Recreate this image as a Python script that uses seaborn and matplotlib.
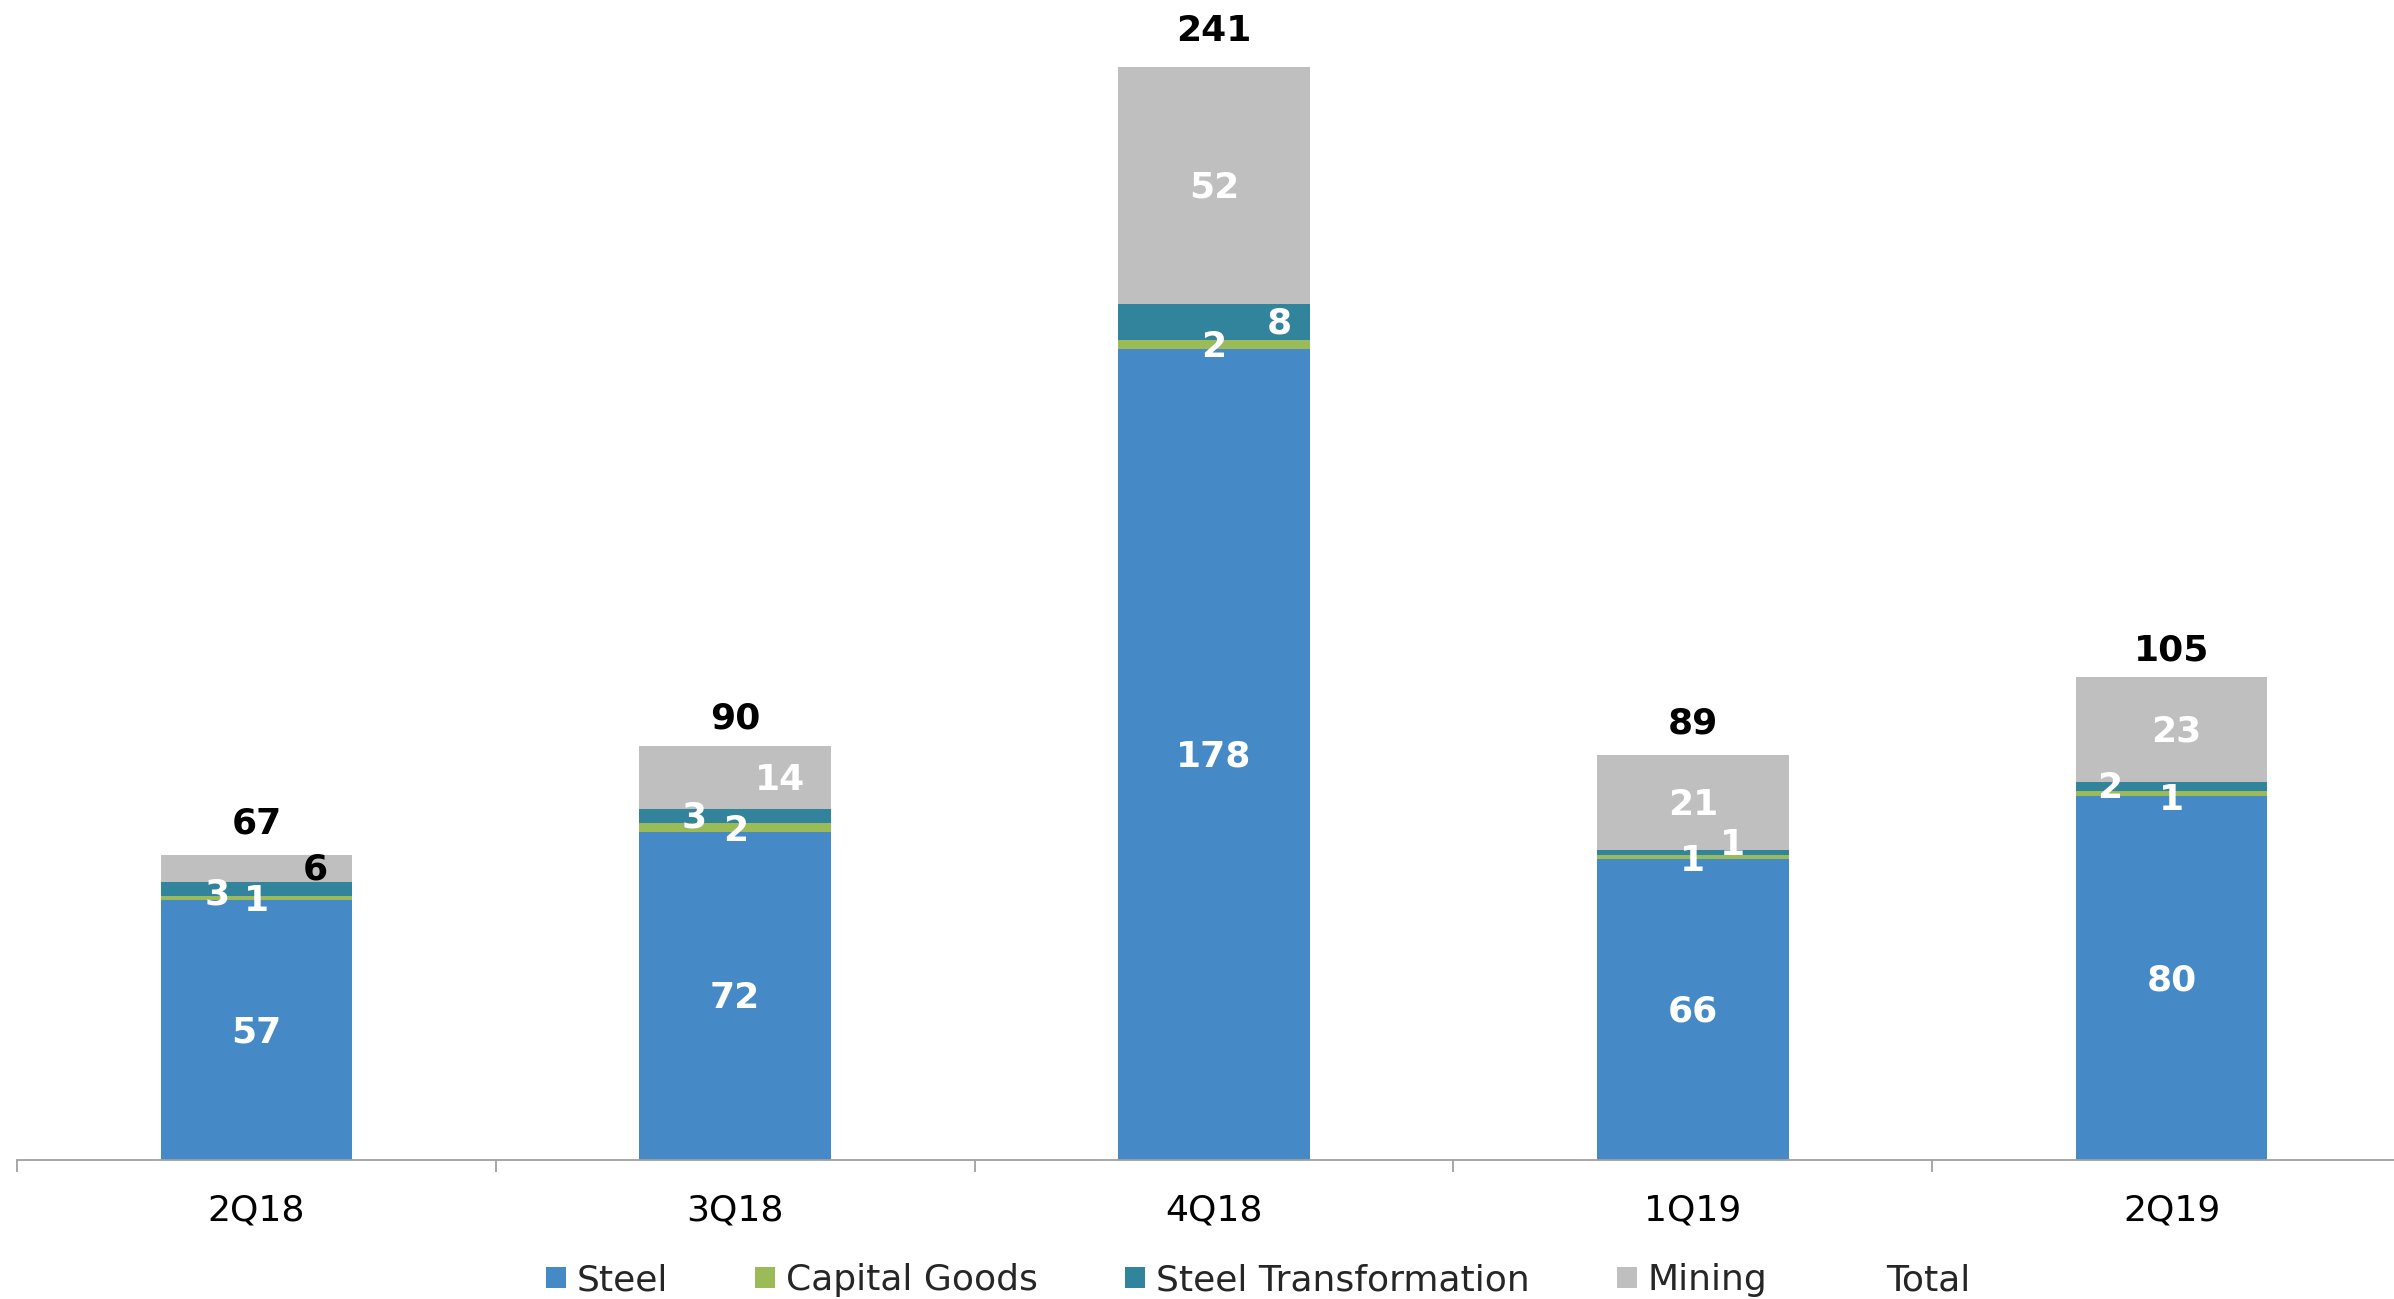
import numpy as np
import pandas as pd
import matplotlib
matplotlib.use("Agg")
import matplotlib.pyplot as plt
from matplotlib.patches import Patch
import seaborn as sns

# Quarterly figures by business segment
quarters = ["2Q18", "3Q18", "4Q18", "1Q19", "2Q19"]
steel = [57, 72, 178, 66, 80]
capital_goods = [1, 2, 2, 1, 1]
steel_transformation = [3, 3, 8, 1, 2]
mining = [6, 14, 52, 21, 23]
total = [67, 90, 241, 89, 105]

series_names = ["Steel", "Capital Goods", "Steel Transformation", "Mining"]
colors = {
    "Steel": "#4589C6",
    "Capital Goods": "#9BBB59",
    "Steel Transformation": "#31849B",
    "Mining": "#BFBFBF",
}

# Label nudges so labels of thin segments do not collide (category units / data units)
label_dx = {
    "Steel": [0, 0, 0, 0, 0],
    "Capital Goods": [0, 0, 0, 0, 0],
    "Steel Transformation": [-0.083, -0.086, 0.137, 0.083, -0.13],
    "Mining": [0.124, 0.093, 0, 0, 0.01],
}
label_dy = {
    "Steel": [-0.5, -0.5, -0.5, -0.5, -0.5],
    "Capital Goods": [-0.6, -0.8, -0.6, -0.8, -1.5],
    "Steel Transformation": [-1.3, -0.3, -0.3, 1.7, -0.3],
    "Mining": [-0.3, -0.5, -0.5, -0.5, -0.5],
}
label_colors = {
    "Steel": ["white"] * 5,
    "Capital Goods": ["white"] * 5,
    "Steel Transformation": ["white"] * 5,
    "Mining": ["black", "white", "white", "white", "white"],
}

df = pd.DataFrame(
    {
        "Steel": steel,
        "Capital Goods": capital_goods,
        "Steel Transformation": steel_transformation,
        "Mining": mining,
    },
    index=quarters,
)
cum = df.cumsum(axis=1)

sns.set_theme(style="white")
plt.rcParams["font.family"] = ["DejaVu Sans"]

W, H = 2394, 1299
fig = plt.figure(figsize=(W / 100, H / 100), dpi=100)
ax = fig.add_axes([17 / W, 139 / H, (2411 - 17) / W, 1160 / H])

# Stacked bars: draw cumulative heights from the top segment down
for name in reversed(series_names):
    sns.barplot(
        x=quarters,
        y=cum[name].values,
        color=colors[name],
        width=0.4,
        saturation=1,
        linewidth=0,
        errorbar=None,
        ax=ax,
    )

# Segment value labels
for name in series_names:
    for i, q in enumerate(quarters):
        val = df.loc[q, name]
        y_mid = cum.loc[q, name] - val / 2 + label_dy[name][i]
        ax.text(
            i + label_dx[name][i],
            y_mid,
            f"{val}",
            ha="center",
            va="center",
            color=label_colors[name][i],
            fontsize=26,
            fontweight="bold",
        )

# Total labels above each stack
for i, t in enumerate(total):
    ax.annotate(
        f"{t}",
        xy=(i, t),
        xytext=(0, 22.5),
        textcoords="offset points",
        ha="center",
        va="center",
        fontsize=26,
        fontweight="bold",
        color="black",
    )

ax.set_xlim(-0.5, 4.5)
ax.set_ylim(0, 254.7)
ax.set_xlabel("")
ax.set_ylabel("")
ax.set_yticks([])

for side in ["top", "right", "left"]:
    ax.spines[side].set_visible(False)
ax.spines["bottom"].set_color("#A0A0A0")
ax.spines["bottom"].set_linewidth(1.3)

ax.set_xticks(np.arange(-0.5, 5.0, 1.0), labels=[""] * 6)
ax.set_xticks(range(len(quarters)), labels=quarters, minor=True)
ax.tick_params(axis="x", which="both", bottom=True)
ax.tick_params(axis="x", which="major", length=8.6, width=1.3, color="#A0A0A0", direction="out")
ax.tick_params(axis="x", which="minor", length=0, pad=24, labelsize=26, labelcolor="black")

handles = [Patch(facecolor=colors[n], edgecolor="none") for n in series_names]
handles.append(Patch(facecolor="none", edgecolor="none"))
labels = series_names + ["Total"]
fig.legend(
    handles,
    labels,
    loc="center",
    bbox_to_anchor=(0.5255, 0.0145),
    ncol=5,
    frameon=False,
    fontsize=26,
    handlelength=0.55,
    handleheight=0.55,
    handletextpad=0.3,
    columnspacing=2.42,
    borderpad=0,
    borderaxespad=0,
)

fig.savefig("out.png", dpi=100)
